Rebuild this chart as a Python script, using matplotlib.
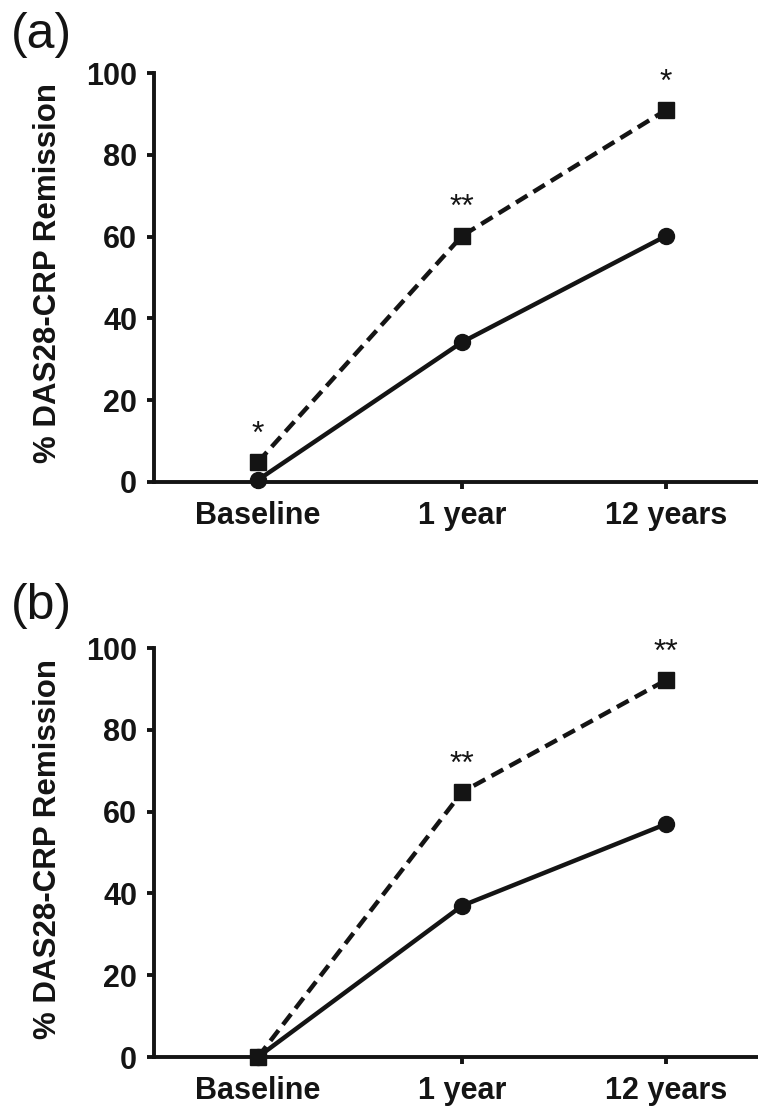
import matplotlib
matplotlib.use("Agg")
import matplotlib.pyplot as plt

plt.rcParams['font.family'] = ['Liberation Sans', 'DejaVu Sans']

timepoints = ["Baseline", "1 year", "12 years"]
yticks = [0, 20, 40, 60, 80, 100]

# panel (a)
a_circle = [0.5, 34.2, 60.2]
a_square = [4.9, 60.2, 91.0]
a_stars = ["*", "**", "*"]

# panel (b)
b_circle = [0, 37, 57]
b_square = [0, 64.8, 92.2]
b_stars = ["", "**", "**"]

ink = "#141414"


def draw_panel(ax, circle, square, stars):
    x = range(len(timepoints))
    ax.plot(x, circle, color=ink, lw=3.2, marker="o", markersize=11.5,
            clip_on=False, zorder=3)
    ax.plot(x, square, color=ink, lw=3.2, linestyle=(0, (3, 1.6)),
            marker="s", markersize=12, clip_on=False, zorder=4)
    for xi, yi, s in zip(x, square, stars):
        if s:
            ax.annotate(s, (xi, yi), xytext=(0, 9), textcoords="offset points",
                        ha="center", va="bottom", fontsize=23, color=ink)

    ax.set_xlim(-0.51, 2.45)
    ax.set_ylim(0, 100)
    ax.set_yticks(yticks)
    ax.set_xticks(list(x))
    ax.set_xticklabels(timepoints)
    for side in ["top", "right"]:
        ax.spines[side].set_visible(False)
    for side in ["left", "bottom"]:
        ax.spines[side].set_linewidth(2.8)
        ax.spines[side].set_color(ink)
    ax.tick_params(axis="both", width=2.8, length=5, color=ink,
                   labelsize=22, labelcolor=ink)
    ax.tick_params(axis="y", pad=7)
    ax.tick_params(axis="x", pad=9)
    for lab in ax.get_xticklabels() + ax.get_yticklabels():
        lab.set_fontweight("bold")
    ax.set_ylabel("% DAS28-CRP Remission", fontsize=22.5, fontweight="bold",
                  color=ink)
    ax.yaxis.set_label_coords(-0.150, 0.51)


fig = plt.figure(figsize=(7.58, 11.08), dpi=100)
ax1 = fig.add_axes([0.203, 0.565, 0.797, 0.369])
ax2 = fig.add_axes([0.203, 0.046, 0.797, 0.369])

draw_panel(ax1, a_circle, a_square, a_stars)
draw_panel(ax2, b_circle, b_square, b_stars)

fig.text(0.055, 1 - 35 / 1108, "(a)", fontsize=36, ha="center", va="center",
         color=ink)
fig.text(0.055, 1 - 606 / 1108, "(b)", fontsize=36, ha="center", va="center",
         color=ink)

fig.savefig("out.png", dpi=100)
